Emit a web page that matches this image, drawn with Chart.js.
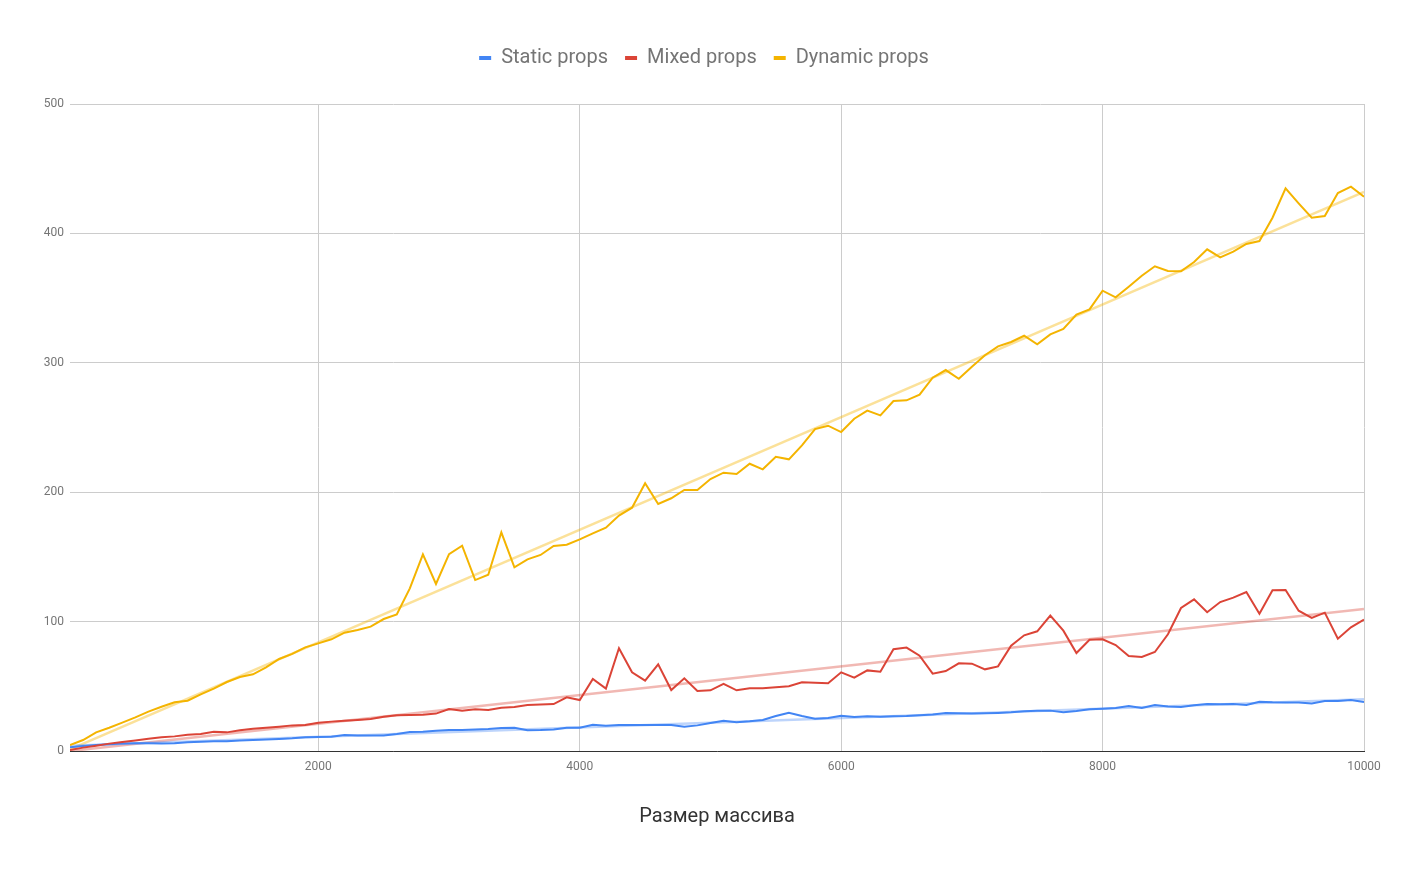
<!DOCTYPE html>
<html>
<head>
<meta charset="utf-8">
<title>Размер массива</title>
<script src="https://cdn.jsdelivr.net/npm/chart.js@4.4.1/dist/chart.umd.min.js"></script>
<style>
  html, body { margin: 0; padding: 0; background: #fff; }
  #chart { display: block; }
</style>
</head>
<body>
<canvas id="chart" width="1408" height="870"></canvas>
<script>
// ====== DATA
const sizes = [
  100, 200, 300, 400, 500, 600, 700, 800, 900, 1000,
  1100, 1200, 1300, 1400, 1500, 1600, 1700, 1800, 1900, 2000,
  2100, 2200, 2300, 2400, 2500, 2600, 2700, 2800, 2900, 3000,
  3100, 3200, 3300, 3400, 3500, 3600, 3700, 3800, 3900, 4000,
  4100, 4200, 4300, 4400, 4500, 4600, 4700, 4800, 4900, 5000,
  5100, 5200, 5300, 5400, 5500, 5600, 5700, 5800, 5900, 6000,
  6100, 6200, 6300, 6400, 6500, 6600, 6700, 6800, 6900, 7000,
  7100, 7200, 7300, 7400, 7500, 7600, 7700, 7800, 7900, 8000,
  8100, 8200, 8300, 8400, 8500, 8600, 8700, 8800, 8900, 9000,
  9100, 9200, 9300, 9400, 9500, 9600, 9700, 9800, 9900, 10000
];

const staticProps = [
  2.8, 3.9, 4.6, 5.2, 5.7, 5.9, 5.9, 5.7, 5.9, 6.7,
  7.2, 7.5, 7.5, 8.2, 8.5, 8.8, 9.3, 9.8, 10.6, 10.8,
  11.1, 12.4, 11.9, 11.9, 11.9, 13.1, 14.7, 14.9, 15.7, 16.2,
  16.2, 16.7, 17.0, 17.8, 18.0, 16.0, 16.2, 16.7, 18.0, 18.0,
  20.3, 19.6, 20.1, 20.0, 20.1, 20.1, 20.0, 18.8, 19.8, 21.6,
  23.4, 22.2, 22.9, 24.0, 27.0, 29.6, 27.0, 25.0, 25.5, 27.3,
  26.3, 26.8, 26.5, 26.8, 27.0, 27.6, 28.3, 29.4, 29.1, 28.9,
  29.1, 29.4, 29.9, 30.7, 31.2, 31.2, 29.9, 30.9, 32.2, 32.7,
  33.2, 34.8, 33.2, 35.5, 34.3, 34.0, 35.3, 36.3, 36.1, 36.3,
  35.5, 38.1, 37.6, 37.4, 37.4, 36.8, 38.6, 38.6, 39.4, 37.9
];

const mixedProps = [
  0.8, 2.6, 4.1, 5.7, 7.0, 8.2, 9.5, 10.6, 11.3, 12.6,
  13.1, 14.9, 14.4, 16.0, 17.2, 18.0, 18.8, 19.8, 20.1, 21.9,
  22.7, 23.4, 24.0, 24.7, 26.5, 27.6, 27.8, 28.1, 28.9, 32.5,
  31.2, 32.2, 31.7, 33.5, 34.0, 35.5, 36.0, 36.3, 41.5, 39.4,
  55.6, 48.2, 79.4, 60.8, 54.4, 67.0, 47.1, 56.2, 46.4, 46.9,
  51.8, 46.9, 48.5, 48.5, 49.2, 50.0, 53.1, 52.8, 52.3, 60.8,
  56.7, 62.3, 61.3, 78.6, 79.9, 73.7, 59.8, 61.8, 67.8, 67.5,
  63.1, 65.4, 81.4, 89.4, 92.5, 104.6, 93.0, 75.7, 86.0, 86.3,
  81.9, 73.4, 72.6, 76.5, 90.2, 110.5, 117.2, 107.2, 115.1, 118.5,
  122.9, 106.1, 124.2, 124.4, 108.4, 102.8, 106.9, 86.8, 95.6, 101.5
];

const dynamicProps = [
  4.6, 8.5, 14.4, 18.0, 21.9, 26.0, 30.4, 34.2, 37.6, 38.9,
  43.8, 48.2, 53.3, 57.2, 59.3, 64.7, 71.1, 75.0, 80.1, 83.2,
  86.3, 91.4, 93.5, 96.1, 102.0, 105.6, 125.7, 152.0, 129.1, 152.2,
  158.7, 132.1, 136.2, 169.0, 141.9, 148.1, 151.5, 158.4, 159.4, 163.6,
  168.2, 172.6, 181.9, 188.0, 206.9, 190.9, 195.3, 201.7, 201.7, 210.2,
  215.1, 214.1, 222.0, 217.7, 227.4, 225.4, 236.2, 248.8, 251.4, 246.5,
  256.8, 263.0, 259.4, 270.5, 271.0, 275.4, 288.5, 294.4, 287.7, 297.0,
  305.8, 312.7, 316.1, 320.9, 314.3, 322.0, 326.1, 337.2, 341.3, 355.7,
  350.6, 358.8, 367.3, 374.6, 370.9, 370.7, 377.9, 387.7, 381.5, 385.9,
  391.8, 394.1, 412.1, 434.8, 423.2, 412.1, 413.4, 431.2, 436.1, 428.4
];

const seriesNames = ['Static props', 'Mixed props', 'Dynamic props'];
const xTicks = [2000, 4000, 6000, 8000, 10000];
const yTicks = [0, 100, 200, 300, 400, 500];
const xTitle = 'Размер массива';

// ====== HELPERS
const COLORS = ['#4285F4', '#DB4437', '#F4B400'];
const TREND = ['rgba(66,133,244,0.35)', 'rgba(219,68,55,0.38)', 'rgba(244,180,0,0.4)'];

const toPoints = ys => sizes.map((x, i) => ({ x, y: ys[i] }));

// least squares trendline over the series, like the original linear trendline
function trendline(ys) {
  const n = sizes.length;
  let sx = 0, sy = 0, sxx = 0, sxy = 0;
  sizes.forEach((x, i) => { sx += x; sy += ys[i]; sxx += x * x; sxy += x * ys[i]; });
  const b = (n * sxy - sx * sy) / (n * sxx - sx * sx);
  const a = (sy - b * sx) / n;
  const x0 = sizes[0], x1 = sizes[n - 1];
  return [{ x: x0, y: a + b * x0 }, { x: x1, y: a + b * x1 }];
}

const allSeries = [staticProps, mixedProps, dynamicProps];

const datasets = [];
allSeries.forEach((ys, i) => {
  datasets.push({
    label: seriesNames[i],
    data: toPoints(ys),
    borderColor: COLORS[i],
    backgroundColor: COLORS[i],
    borderWidth: 2,
    pointRadius: 0,
    tension: 0,
    order: 3 - i
  });
});
allSeries.forEach((ys, i) => {
  datasets.push({
    label: 'trend',
    data: trendline(ys),
    borderColor: TREND[i],
    backgroundColor: TREND[i],
    borderWidth: 2.5,
    pointRadius: 0,
    tension: 0,
    order: 10
  });
});

// legend height hack so the plot starts where the original does
const legendSpace = {
  id: 'legendSpace',
  beforeInit(chart) {
    const fit = chart.legend.fit;
    chart.legend.fit = function () {
      fit.bind(chart.legend)();
      this.height = 73;
    };
  }
};

const FONT = 'Roboto, Arial, sans-serif';

new Chart(document.getElementById('chart').getContext('2d'), {
  type: 'line',
  data: { datasets },
  plugins: [legendSpace],
  options: {
    responsive: false,
    animation: false,
    devicePixelRatio: 1,
    layout: { padding: { top: 31, left: 0, right: 0, bottom: 41 } },
    plugins: {
      legend: {
        position: 'top',
        labels: {
          generateLabels: chart => Chart.defaults.plugins.legend.labels.generateLabels(chart)
            .filter(item => item.text !== 'trend')
            .sort((a, b) => a.datasetIndex - b.datasetIndex)
            .map(item => Object.assign(item, { lineWidth: 0 })),
          boxWidth: 12,
          boxHeight: 4,
          padding: 17,
          color: '#757575',
          font: { family: FONT, size: 20 }
        }
      },
      tooltip: { enabled: false }
    },
    scales: {
      x: {
        type: 'linear',
        min: 100,
        max: 10000,
        afterBuildTicks: s => { s.ticks = xTicks.map(v => ({ value: v })); },
        afterFit: s => { s.height = 78; },
        grid: { color: '#cccccc', lineWidth: 1, drawTicks: false },
        border: { display: true, color: '#333333', width: 1 },
        ticks: {
          padding: 9,
          color: '#757575',
          font: { family: FONT, size: 12 },
          maxRotation: 0,
          callback: v => String(v)
        },
        title: {
          display: true,
          text: xTitle,
          color: '#333333',
          padding: { top: 0, bottom: 0 },
          font: { family: FONT, size: 20 }
        }
      },
      y: {
        min: 0,
        max: 500,
        afterBuildTicks: s => { s.ticks = yTicks.map(v => ({ value: v })); },
        afterFit: s => { s.width = 70; },
        grid: { color: '#cccccc', lineWidth: 1, drawTicks: false },
        border: { display: false },
        ticks: {
          padding: 6,
          color: '#757575',
          font: { family: FONT, size: 12 }
        }
      },
      // empty right-hand axis: keeps the right margin so the legend centres on the page
      yRight: {
        position: 'right',
        min: 0,
        max: 500,
        afterFit: s => { s.width = 44; },
        grid: { display: false, drawTicks: false },
        border: { display: false },
        ticks: { display: false }
      }
    }
  }
});
</script>
</body>
</html>
